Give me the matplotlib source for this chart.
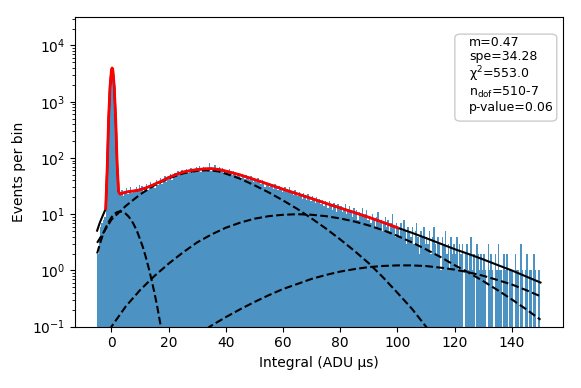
import numpy as np
import matplotlib
matplotlib.use("Agg")
import matplotlib.pyplot as plt
from matplotlib.patches import FancyBboxPatch

# Histograma: cuentas por bin (bins de 0.5 desde -5 hasta 150)
BIN_START = -5.0
BIN_WIDTH = 0.5
counts = [
    2, 4, 6, 7, 8, 9, 30, 220, 1000, 2900,
    3900, 2900, 1000, 200, 40, 24, 22, 27, 21, 25,
    29, 23, 26, 31, 24, 27, 25, 30, 26, 33,
    28, 32, 25, 30, 35, 27, 31, 38, 30, 34,
    29, 41, 33, 37, 44, 35, 40, 47, 38, 43,
    46, 52, 41, 49, 55, 47, 58, 50, 53, 61,
    52, 57, 63, 54, 59, 66, 55, 62, 58, 68,
    60, 71, 57, 64, 69, 59, 66, 62, 82, 58,
    67, 61, 76, 56, 64, 68, 60, 65, 55, 62,
    59, 53, 63, 55, 49, 58, 52, 47, 55, 50,
    44, 51, 46, 42, 49, 45, 40, 47, 43, 38,
    42, 37, 44, 39, 34, 40, 36, 31, 38, 33,
    30, 35, 32, 28, 34, 30, 27, 32, 29, 25,
    28, 31, 25, 27, 30, 24, 26, 22, 27, 24,
    21, 25, 23, 19, 24, 22, 18, 23, 20, 17,
    21, 18, 16, 20, 17, 19, 15, 18, 14, 17,
    16, 13, 17, 15, 12, 16, 14, 11, 15, 13,
    14, 11, 13, 15, 10, 12, 14, 11, 9, 13,
    11, 12, 8, 11, 10, 13, 9, 10, 12, 8,
    9, 7, 10, 8, 6, 9, 11, 7, 8, 5,
    7, 9, 6, 8, 5, 7, 10, 6, 4, 7,
    6, 4, 7, 5, 8, 5, 3, 6, 5, 4,
    6, 3, 5, 7, 4, 2, 5, 4, 6, 3,
    4, 3, 5, 2, 4, 6, 3, 2, 4, 3,
    1, 4, 3, 5, 2, 3, 1, 4, 2, 3,
    2, 4, 1, 3, 2, 3, 0, 2, 3, 1,
    2, 4, 1, 2, 0, 3, 2, 1, 2, 1,
    2, 1, 0, 3, 1, 2, 1, 0, 2, 1,
    3, 1, 1, 0, 2, 1, 2, 0, 1, 1,
    1, 0, 2, 1, 1, 0, 3, 1, 0, 1,
    2, 0, 1, 1, 0, 2, 1, 0, 1, 1,
]

# Modelo total (linea negra; en rojo dentro del rango del ajuste)
model_x = [-5, -4, -3, -2, -1.5, -1, -0.5, 0, 0.25, 0.5, 1, 1.5, 2, 2.5, 3, 4, 5,
           6, 7, 8, 9, 10, 12, 14, 16, 18, 20, 22.5, 25, 27.5, 30, 32.5, 35, 37.5,
           40, 45, 50, 55, 60, 65, 70, 75, 80, 85, 90, 95, 100, 105, 110, 115, 120,
           125, 130, 135, 140, 145, 150]
model_y = [5.1, 7.2, 9.5, 12.5, 60, 470, 1820, 3640, 3980, 3640, 1830, 480, 78, 25.5,
           22.8, 23.8, 24.6, 25.2, 25.6, 26.0, 26.5, 27.2, 29.3, 32.2, 35.8, 39.8, 45,
           50.5, 56, 59.5, 62.2, 64, 64.5, 62.6, 58.4, 50, 41.3, 34, 27.8, 23, 19,
           15.6, 12.9, 10.7, 8.8, 7.15, 5.75, 4.68, 3.76, 3.0, 2.39, 1.95, 1.57, 1.25,
           1.0, 0.78, 0.61]
FIT_MIN = -2
FIT_MAX = 100

# Componentes (lineas discontinuas)
comp_a_x = list(range(-5, 19))
comp_a_y = [2.0, 3.0, 4.3, 5.75, 7.2, 8.8, 10.1, 10.9, 11.2, 11.0, 10.2, 9.1, 7.8,
            6.3, 4.9, 3.6, 2.6, 1.74, 1.12, 0.69, 0.41, 0.23, 0.12, 0.063]

pe1_x = [-5, 0, 5, 10, 15, 20, 25, 27.5, 30, 32.5, 35, 37.5, 40, 42.5, 45, 50, 55,
         60, 65, 70, 75, 80, 85, 90, 95, 100, 105, 110, 115]
pe1_y = [3.1, 8.0, 14.0, 22.4, 32.6, 43.4, 53.0, 56.5, 58.9, 60.2, 60.0, 57.5, 52.5,
         47.5, 42.7, 32.7, 24.4, 17.6, 12.4, 8.4, 5.56, 3.56, 2.22, 1.34, 0.75, 0.40,
         0.21, 0.10, 0.048]

pe2_x = list(range(-5, 151, 5))
pe2_y = [0.040, 0.100, 0.229, 0.447, 0.794, 1.32, 2.09, 3.16, 4.37, 5.75, 7.08, 8.32,
         9.23, 9.77, 10.0, 9.77, 9.23, 8.41, 7.41, 6.31, 5.19, 4.12, 3.16, 2.37, 1.74,
         1.24, 0.91, 0.645, 0.447, 0.305, 0.204, 0.133]

pe3_x = list(range(30, 151, 5))
pe3_y = [0.071, 0.105, 0.148, 0.204, 0.275, 0.363, 0.468, 0.575, 0.708, 0.832, 0.955,
         1.057, 1.148, 1.202, 1.23, 1.23, 1.197, 1.122, 1.035, 0.925, 0.804, 0.676,
         0.562, 0.447, 0.347]

stats_labels = ["m=0.47", "spe=34.28", "χ$^2$=553.0",
                "n$_\\mathrm{dof}$=510-7", "p-value=0.06"]

fig = plt.figure(figsize=(5.81, 3.88), dpi=100)
ax = fig.add_axes([0.129, 0.158, 0.8394, 0.798])
ax.set_yscale("log")

counts = np.array(counts, dtype=float)
centers = BIN_START + BIN_WIDTH * (np.arange(len(counts)) + 0.5)
keep = counts > 0
ax.bar(centers[keep], counts[keep], width=BIN_WIDTH, color="C0", alpha=0.8,
       linewidth=0, zorder=1)

for cx, cy in [(comp_a_x, comp_a_y), (pe1_x, pe1_y), (pe2_x, pe2_y), (pe3_x, pe3_y)]:
    ax.plot(cx, cy, "k--", lw=1.5, zorder=2)

mx = np.array(model_x, dtype=float)
my = np.array(model_y)
ax.plot(mx, my, "k-", lw=1.5, zorder=3)
fit = (mx >= FIT_MIN) & (mx <= FIT_MAX)
ax.plot(mx[fit], my[fit], "r-", lw=2, zorder=4)

# Caja con los resultados del ajuste
box = FancyBboxPatch((0.779, 0.664), 0.209, 0.281, transform=ax.transAxes,
                     boxstyle="round,pad=0,rounding_size=0.012",
                     facecolor=(1, 1, 1, 0.8), edgecolor="0.8", lw=1, zorder=5)
ax.add_patch(box)
ax.text(0.808, 0.938, "\n".join(stats_labels), transform=ax.transAxes,
        ha="left", va="top", fontsize=9, linespacing=1.08, zorder=6)

ax.set_xlim(-12.75, 157.75)
ax.set_ylim(0.1, 3.2e4)
ax.set_xticks(range(0, 141, 20))
ax.set_xlabel("Integral (ADU µs)")
ax.set_ylabel("Events per bin")

fig.savefig("out.png", dpi=100)
